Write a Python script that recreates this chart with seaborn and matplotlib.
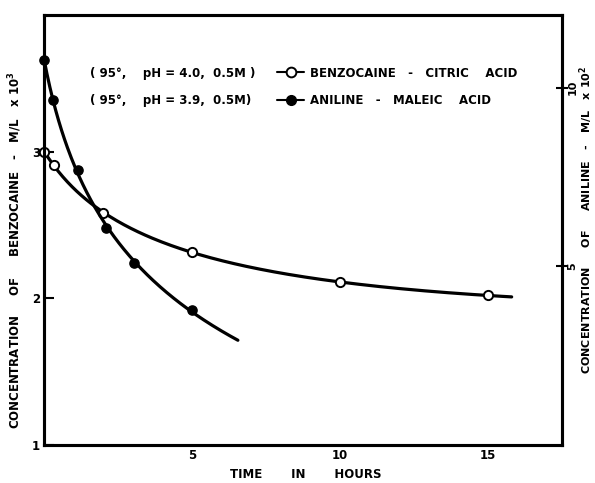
import numpy as np
import pandas as pd
import matplotlib
matplotlib.use("Agg")
import matplotlib.pyplot as plt
import seaborn as sns
from matplotlib.lines import Line2D

# values

benz_time = [0, 0.35, 2.0, 5.0, 10.0, 15.0]
benz_conc = [3.0, 2.91, 2.58, 2.32, 2.11, 2.02]   # M/L x 10^3, left axis
anil_time = [0, 0.3, 1.15, 2.1, 3.05, 5.0]
anil_conc = [10.78, 9.66, 7.71, 6.06, 5.08, 3.77]  # M/L x 10^2, right axis
benz_curve_end = 15.8
anil_curve_end = 6.55

x_ticks = [5, 10, 15]
left_ticks = [1, 2, 3]
right_ticks = [5, 10]

benz_label = "BENZOCAINE   -   CITRIC    ACID"
anil_label = "ANILINE   -   MALEIC    ACID"
benz_cond = "( 95°,    pH = 4.0,  0.5M )"
anil_cond = "( 95°,    pH = 3.9,  0.5M)"

# smooth curves fitted through the read points

def smooth_curve(t, c, t_end, deg):
    coef = np.polyfit(np.log1p(t), c, deg)
    tt = np.linspace(0, t_end, 200)
    return pd.DataFrame({"time": tt, "conc": np.polyval(coef, np.log1p(tt))})

benz_df = pd.DataFrame({"time": benz_time, "conc": benz_conc})
anil_df = pd.DataFrame({"time": anil_time, "conc": anil_conc})
benz_fit = smooth_curve(benz_time, benz_conc, benz_curve_end, 3)
anil_fit = smooth_curve(anil_time, anil_conc, anil_curve_end, 2)

sns.set_style("white")
plt.rcParams["font.family"] = ["DejaVu Sans"]
plt.rcParams["font.weight"] = "bold"
for key in ["text.color", "axes.labelcolor", "xtick.color", "ytick.color"]:
    plt.rcParams[key] = "black"

fig, ax = plt.subplots(figsize=(5.95, 4.83), dpi=100)
fig.subplots_adjust(left=0.074, right=0.9445, bottom=0.079, top=0.969)
ax2 = ax.twinx()

lw = 2.3
sns.lineplot(data=benz_fit, x="time", y="conc", ax=ax, color="black", lw=lw)
sns.scatterplot(data=benz_df, x="time", y="conc", ax=ax, color="white",
                edgecolor="black", linewidth=1.4, s=44, zorder=5, clip_on=False)
sns.lineplot(data=anil_fit, x="time", y="conc", ax=ax2, color="black", lw=lw)
sns.scatterplot(data=anil_df, x="time", y="conc", ax=ax2, color="black",
                edgecolor="black", linewidth=1.0, s=44, zorder=5, clip_on=False)

ax.set_xlim(0, 17.5)
ax.set_ylim(1, 3.935)
ax2.set_ylim(0, 12.04)

ax.set_xticks(x_ticks)
ax.set_yticks(left_ticks)
ax2.set_yticks(right_ticks)
ax.tick_params(axis="x", direction="in", length=7, width=1.5, pad=3, labelsize=8.5)
ax.tick_params(axis="y", direction="in", length=7, width=1.5, pad=3, labelsize=8.5)
ax2.tick_params(axis="y", direction="inout", length=8, width=1.5, pad=0,
                labelsize=8, labelrotation=90)
for lab in ax2.get_yticklabels():
    lab.set_va("center")

ax.set_xlabel("")
ax.set_ylabel("")
ax2.set_ylabel("")
for a in (ax, ax2):
    for sp in a.spines.values():
        sp.set_linewidth(2.2)
        sp.set_color("black")

# legend: conditions text + handle + label

handles = [
    Line2D([], [], color="black", lw=1.5, marker="o", markersize=7,
           markerfacecolor="white", markeredgecolor="black", markeredgewidth=1.4),
    Line2D([], [], color="black", lw=1.5, marker="o", markersize=7,
           markerfacecolor="black", markeredgecolor="black"),
]
ax.legend(handles, [benz_label, anil_label], loc="upper left",
          bbox_to_anchor=(0.45, 0.88), frameon=False, fontsize=8.5,
          borderpad=0, borderaxespad=0, handlelength=2.3, handletextpad=0.45,
          labelspacing=1.2)
ax.text(0.089, 0.865, benz_cond, transform=ax.transAxes, fontsize=8.5,
        va="center", ha="left", fontweight="bold")
ax.text(0.089, 0.802, anil_cond, transform=ax.transAxes, fontsize=8.5,
        va="center", ha="left", fontweight="bold")

fig.text(15 / 595, 1 - 250 / 483,
         "CONCENTRATION     OF     BENZOCAINE   -   M/L   x 10$^3$",
         rotation=90, ha="center", va="center", fontsize=8.5, fontweight="bold")
fig.text(586 / 595, 1 - 220 / 483,
         "CONCENTRATION     OF     ANILINE   -   M/L   x 10$^2$",
         rotation=90, ha="center", va="center", fontsize=8, fontweight="bold")
fig.text(306 / 595, 1 - 475 / 483, "TIME       IN       HOURS",
         ha="center", va="center", fontsize=8.5, fontweight="bold")

fig.savefig("out.png", dpi=100)
